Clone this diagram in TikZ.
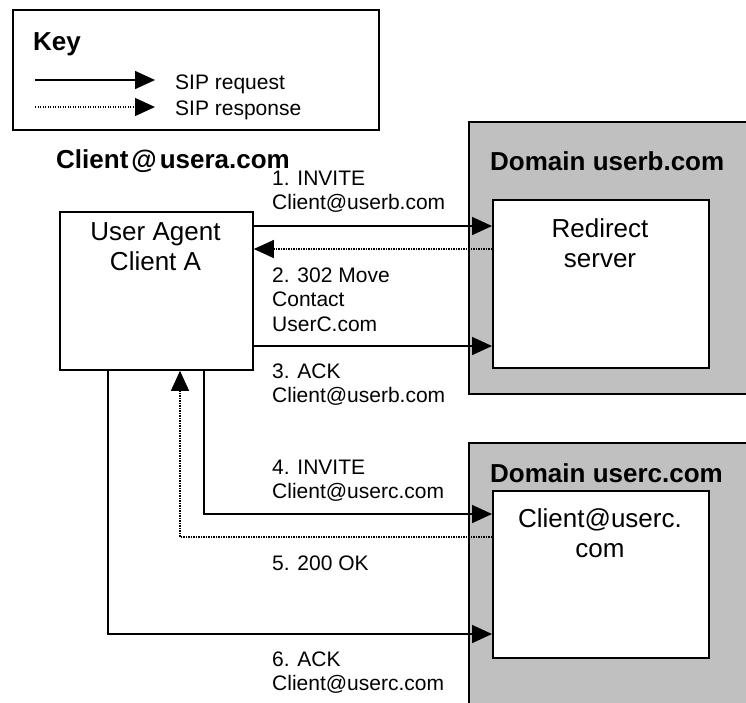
\documentclass[tikz,border=0pt]{standalone}
\usepackage{fontspec}
\setmainfont{Liberation Sans}
\usetikzlibrary{arrows.meta,calc}
\definecolor{silver}{HTML}{C0C0C0}
\newcommand\lftlines[1]{\vtop{\baselineskip=24.5pt\halign{##\hfil\cr#1\crcr}}}
\newcommand\ctrlines[1]{\vtop{\baselineskip=30.5pt\halign{\hfil##\hfil\cr#1\crcr}}}
\tikzset{
  box/.style={draw, line width=1.8pt, fill=white, inner sep=0pt, anchor=north west},
  domainbox/.style={draw, line width=1.8pt, fill=silver, inner sep=0pt, anchor=north west},
  req/.style={line width=1.6pt, -{Triangle[length=20pt,width=18pt]}},
  resp/.style={line width=1.2pt, dash pattern=on 1.2pt off 1.3pt, -{Triangle[length=20pt,width=18pt]}},
  lbl/.style={anchor=base west, inner sep=0pt, font=\fontsize{21}{24.5}\selectfont},
  ttl/.style={anchor=base west, inner sep=0pt, font=\fontsize{26}{30}\selectfont\bfseries},
  boxtxt/.style={anchor=base, inner sep=0pt, font=\fontsize{26}{30.5}\selectfont},
}
\begin{document}
\begin{tikzpicture}[x=1pt,y=-1pt]
\clip (0,0) rectangle (746,702);
\fill[white] (0,0) rectangle (746,702);

% Key
\node[box, minimum width=366pt, minimum height=120pt] (key) at (12,9) {};
\node[ttl] (keyt) at (33,50) {Key};
\coordinate (k1s) at (35,80);
\coordinate (k1e) at (155,80);
\coordinate (k2s) at (35,107);
\coordinate (k2e) at (155,107);
\draw[req] (k1s) -- (k1e);
\draw[resp] (k2s) -- (k2e);
\node[lbl] (kreq) at (175,89) {SIP request};
\node[lbl] (kresp) at (175,115) {SIP response};

% Client A
\node[ttl] (catitle) at (56,168) {Client\kern3pt@\kern3pt usera.com};
\node[box, minimum width=193pt, minimum height=158pt] (ua) at (59,211) {};
\node[boxtxt] (uatxt) at (155.5,240) {\ctrlines{User Agent\cr Client A}};

% Domain B
\node[domainbox, minimum width=292pt, minimum height=272pt] (db) at (468,121) {};
\node[ttl] (dbt) at (490,170) {Domain userb.com};
\node[box, minimum width=216pt, minimum height=168pt] (rd) at (492,199) {};
\node[boxtxt] (rdtxt) at (600,237) {\ctrlines{Redirect\cr server}};

% Domain C
\node[domainbox, minimum width=292pt, minimum height=290pt] (dc) at (468,442) {};
\node[ttl] (dct) at (490,482) {Domain userc.com};
\node[box, minimum width=216pt, minimum height=167pt] (uc) at (492,490) {};
\node[boxtxt] (uctxt) at (600,527) {\ctrlines{Client@userc.\cr com}};

% helper coordinates
\coordinate (y1) at (0,226);
\coordinate (y2) at (0,249);
\coordinate (y3) at (0,346);
\coordinate (y4) at (0,514);
\coordinate (y5) at (0,537);
\coordinate (y6) at (0,634);
\coordinate (x4) at (204,0);
\coordinate (x5) at (180,0);
\coordinate (x6) at (108,0);

% connectors
\draw[req] (ua.east |- y1) -- (rd.west |- y1);
\draw[resp] (rd.west |- y2) -- (ua.east |- y2);
\draw[req] (ua.east |- y3) -- (rd.west |- y3);
\draw[req] (x4 |- ua.south) |- (uc.west |- y4);
\draw[resp] (uc.west |- y5) -| (x5 |- ua.south);
\draw[req] (x6 |- ua.south) |- (uc.west |- y6);

% labels
\node[lbl] (l1) at (272,185) {\lftlines{1. INVITE\cr Client@userb.com}};
\node[lbl] (l2) at (272,282) {\lftlines{2. 302 Move\cr Contact\cr UserC.com}};
\node[lbl] (l3) at (272,378) {\lftlines{3. ACK\cr Client@userb.com}};
\node[lbl] (l4) at (272,474) {\lftlines{4. INVITE\cr Client@userc.com}};
\node[lbl] (l5) at (272,570) {5. 200 OK};
\node[lbl] (l6) at (272,666) {\lftlines{6. ACK\cr Client@userc.com}};
\end{tikzpicture}
\end{document}
